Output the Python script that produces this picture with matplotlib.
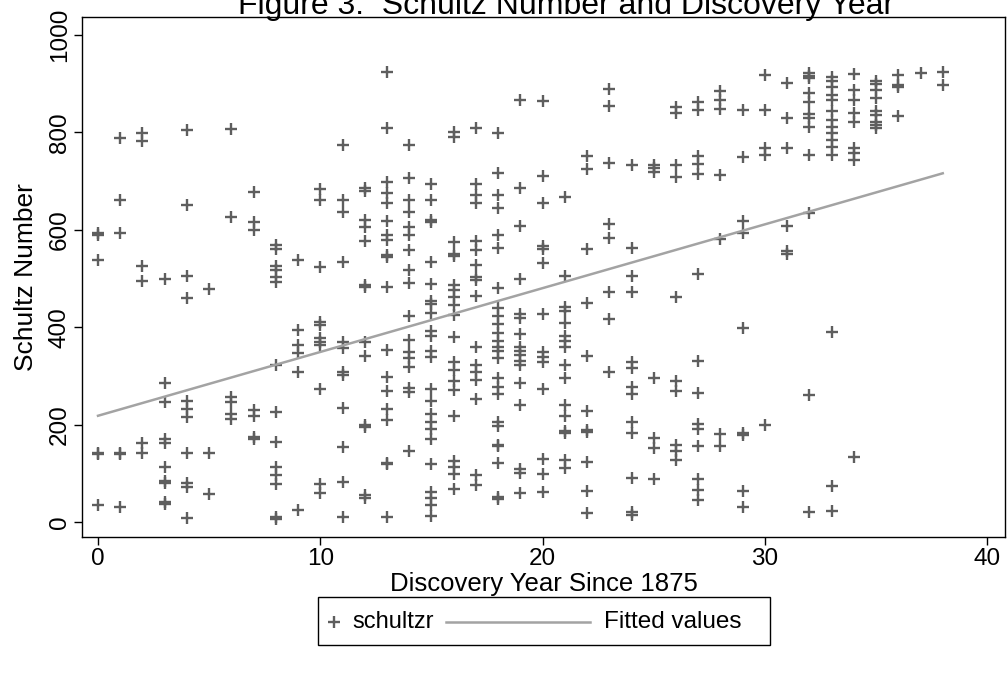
import numpy as np
import matplotlib.pyplot as plt
from matplotlib.patches import Rectangle
from matplotlib.lines import Line2D

plt.rcParams['font.family'] = ['Liberation Sans', 'DejaVu Sans']

# discovery year since 1875 (0..38) and the schultz numbers found that year
years = list(range(39))
schultz_by_year = [
    [593, 590, 538, 141, 139, 35],
    [788, 661, 594, 142, 140, 31],
    [799, 783, 526, 495, 162, 141],
    [498, 285, 247, 170, 163, 113, 85, 80, 40, 36],
    [805, 651, 505, 459, 248, 232, 215, 141, 80, 72, 8],
    [478, 141, 57],
    [806, 627, 256, 246, 222, 212],
    [678, 615, 600, 230, 218, 175, 170],
    [568, 560, 525, 517, 504, 493, 322, 226, 165, 112, 97, 77, 10, 5],
    [537, 394, 363, 346, 307, 25],
    [683, 661, 524, 411, 405, 377, 370, 363, 272, 78, 60],
    [774, 661, 637, 533, 370, 357, 307, 302, 233, 153, 81, 10],
    [685, 680, 620, 606, 576, 487, 483, 370, 341, 199, 195, 55, 49],
    [925, 810, 699, 675, 654, 617, 589, 579, 548, 545, 483, 353, 298, 268,
     232, 209, 122, 118, 10],
    [774, 707, 661, 637, 605, 590, 559, 517, 490, 422, 374, 348, 336, 319,
     275, 267, 146],
    [694, 661, 620, 615, 533, 488, 453, 447, 430, 392, 382, 350, 338, 272,
     248, 222, 205, 190, 170, 118, 62, 50, 35, 13],
    [801, 791, 574, 551, 546, 486, 476, 462, 446, 424, 380, 328, 312, 290,
     270, 217, 126, 112, 98, 68],
    [808, 695, 671, 654, 576, 559, 528, 504, 497, 463, 360, 322, 308, 292,
     252, 97, 76],
    [798, 717, 671, 644, 589, 562, 481, 440, 423, 406, 389, 372, 360, 350,
     336, 295, 278, 262, 206, 196, 158, 155, 120, 52, 47],
    [867, 685, 607, 498, 426, 419, 385, 360, 350, 343, 330, 323, 285, 240,
     108, 100, 60],
    [865, 711, 656, 566, 561, 532, 427, 348, 338, 328, 272, 129, 99, 62],
    [667, 506, 441, 434, 408, 382, 372, 360, 323, 296, 240, 218, 187, 183,
     127, 110],
    [752, 725, 561, 449, 340, 227, 189, 185, 124, 64, 19],
    [890, 854, 738, 612, 583, 472, 417, 307],
    [733, 562, 505, 473, 328, 316, 278, 262, 206, 182, 90, 21, 14],
    [733, 726, 719, 296, 172, 152, 88],
    [853, 839, 733, 709, 462, 289, 268, 158, 146, 128],
    [862, 847, 752, 736, 714, 510, 331, 265, 202, 190, 156, 88, 65, 45],
    [884, 867, 849, 713, 581, 181, 155],
    [846, 750, 618, 594, 399, 182, 178, 63, 30],
    [918, 847, 767, 754, 199],
    [902, 829, 767, 608, 556, 550],
    [921, 916, 912, 880, 863, 838, 829, 812, 754, 634, 261, 21],
    [914, 905, 894, 877, 867, 843, 825, 812, 798, 784, 771, 754, 391, 73, 22],
    [920, 888, 867, 840, 822, 767, 757, 743, 134],
    [906, 900, 888, 870, 843, 836, 822, 815, 810],
    [918, 897, 893, 834],
    [921],
    [925, 897],
]

# fitted values, at the first and last year
fit_years = [0, 38]
fit_values = [218, 716]

xticks = [0, 10, 20, 30, 40]
yticks = [0, 200, 400, 600, 800, 1000]

x = np.concatenate([[yr] * len(v) for yr, v in zip(years, schultz_by_year)])
y = np.concatenate(schultz_by_year)

mark_col = '#5e5e5e'
fit_col = '#a3a3a3'

fig = plt.figure(figsize=(10.08, 6.73), dpi=100)
ax = fig.add_axes([82 / 1008, 1 - 537 / 673, 923 / 1008, 520 / 673])

ax.plot(x, y, '+', ms=8, mew=1.7, color=mark_col)
ax.plot(fit_years, fit_values, color=fit_col, lw=1.8)

ax.set_xlim(-0.72, 40.8)
ax.set_ylim(-31, 1037)
ax.set_xticks(xticks)
ax.set_yticks(yticks)
ax.tick_params(labelsize=17.5, length=6, width=1, colors='black', pad=2)
plt.setp(ax.get_yticklabels(), rotation=90, va='center')
for s in ax.spines.values():
    s.set_linewidth(1)

ax.set_xlabel('Discovery Year Since 1875', fontsize=18.5, labelpad=1)
ax.set_ylabel('Schultz Number', fontsize=19, labelpad=8)

fig.text(566 / 1008, 1 - 14 / 673, 'Figure 3:  Schultz Number and Discovery Year',
         ha='center', va='baseline', fontsize=23)

# stata style legend box under the plot
def fx(px):
    return px / 1008

def fy(py):
    return 1 - py / 673

fig.patches.append(Rectangle((fx(318), fy(645)), fx(770) - fx(318), fy(597) - fy(645),
                             transform=fig.transFigure, fill=False, ec='black', lw=1))
fig.lines.append(Line2D([fx(334)], [fy(622)], marker='+', ms=8, mew=1.7,
                        color=mark_col, transform=fig.transFigure))
fig.text(fx(352), fy(622), 'schultzr', va='center', fontsize=17)
fig.lines.append(Line2D([fx(446), fx(590)], [fy(622), fy(622)], color=fit_col, lw=1.8,
                        transform=fig.transFigure))
fig.text(fx(604), fy(622), 'Fitted values', va='center', fontsize=17.5)

plt.savefig('out.png', dpi=100)
